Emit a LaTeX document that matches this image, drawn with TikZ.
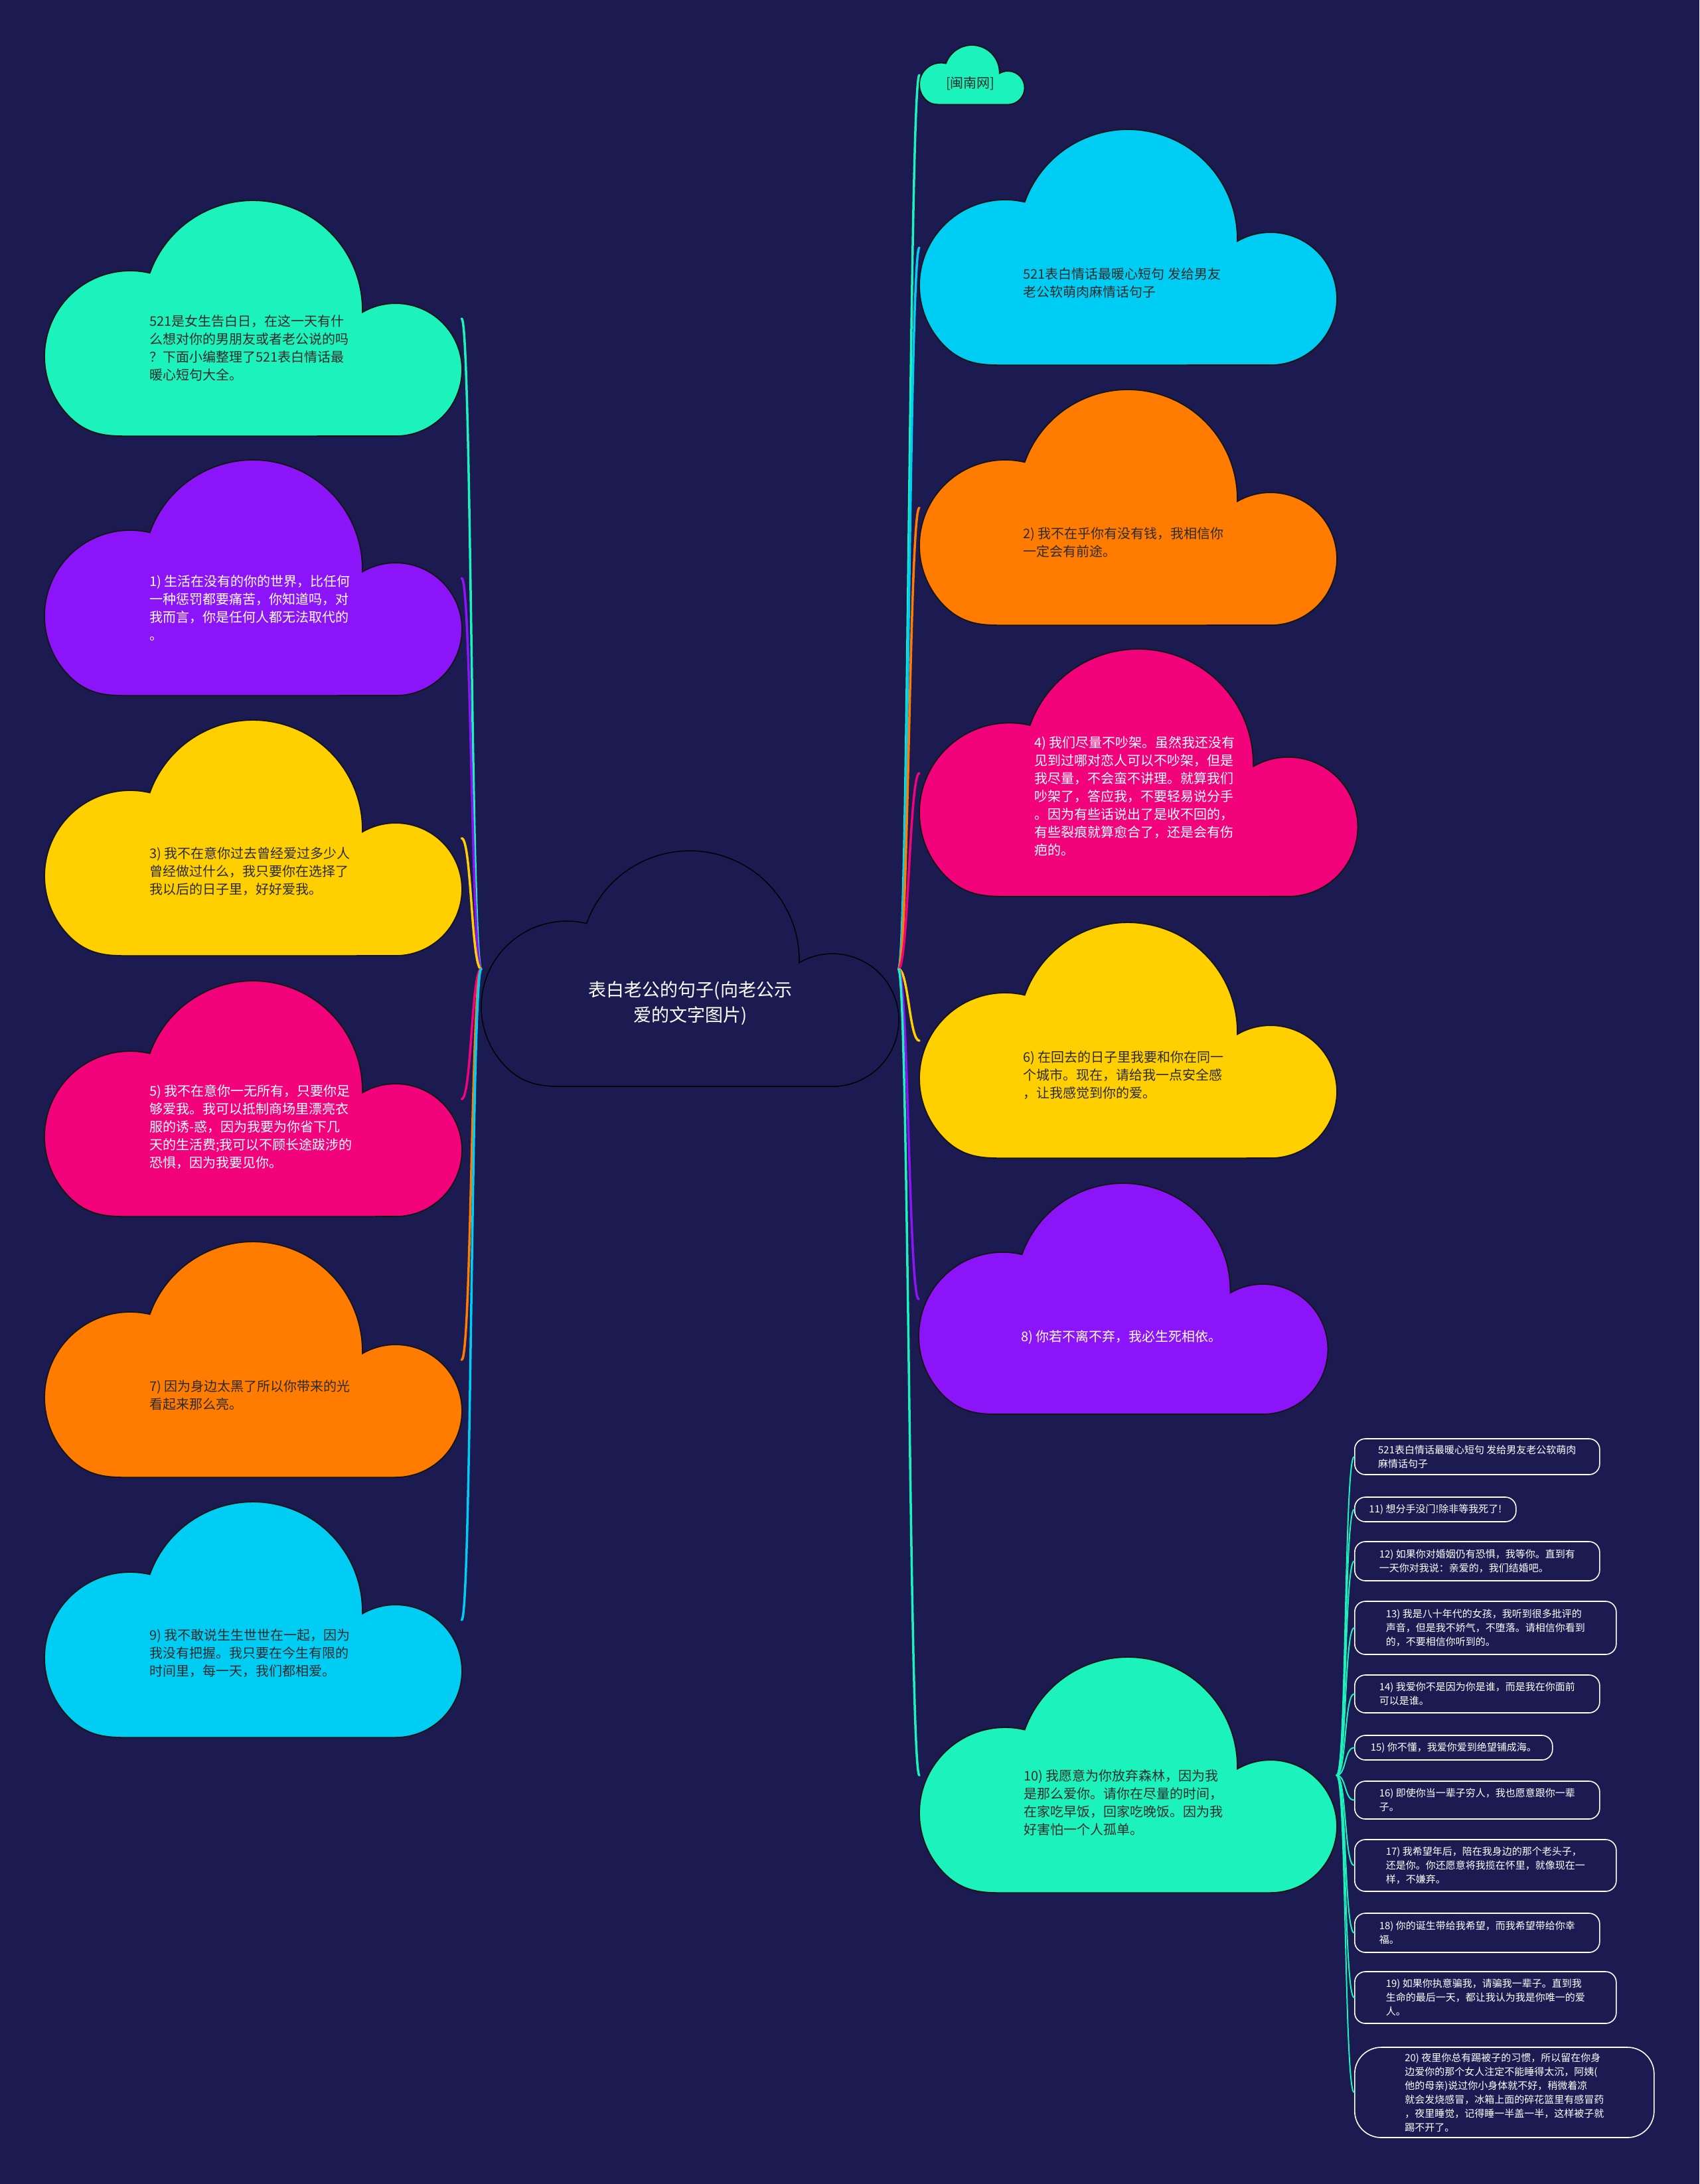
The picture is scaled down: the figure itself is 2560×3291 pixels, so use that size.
\documentclass[tikz,border=0pt]{standalone}
\usepackage{fontspec}
\setmainfont{Noto Sans CJK SC}
\definecolor{bg}{HTML}{1B1B51}
\definecolor{cgreen}{HTML}{1CF2BC}
\definecolor{cpurple}{HTML}{8B15F8}
\definecolor{cyellow}{HTML}{FFCF00}
\definecolor{cpink}{HTML}{F2037C}
\definecolor{corange}{HTML}{FF7C00}
\definecolor{ccyan}{HTML}{00CDF4}
\definecolor{darktext}{HTML}{2B2B2B}
\definecolor{outl}{HTML}{141414}
\newcommand\mycloud[5]{%
  \begin{scope}[shift={(#2,{-#3-356*#4})},scale=#4]
    \path[#5] (37.8,29.8) arc[start angle=225,end angle=76.7,radius=129]
      arc[start angle=160.3,end angle=-1.2,radius=165]
      arc[start angle=120,end angle=-90,radius=100]
      -- (125,0.8) .. controls (95,0.8) and (66,1.8) .. (37.8,29.8) -- cycle;
  \end{scope}
  \node[inner sep=0pt,minimum width={628*#4},minimum height={356*#4},anchor=north west] (#1) at (#2,-#3) {};
}
\newcommand\conn[4]{\draw[connector,#1] (#2) .. controls ([xshift={#4}]#2) and ([xshift={-1*(#4)}]#3) .. (#3);}
\tikzset{
  cloudfill/.style={fill=#1,draw=outl,line width=1.8},
  connector/.style={line width=3.5,line cap=round},
  leafconn/.style={line width=2,cgreen,line cap=round},
  ctext/.style={inner sep=0pt,align=left,anchor=north west,font=\fontsize{20}{27}\selectfont},
  leafbox/.style={draw=white,line width=1.6,rounded corners=16,fill=bg,anchor=west,inner sep=0pt,align=left,text=white,font=\fontsize{15}{21}\selectfont}
}
\begin{document}
\begin{tikzpicture}[x=1pt,y=1pt]
\fill[bg] (0,0) rectangle (2560,-3291);
\useasboundingbox (0,0) rectangle (2560,-3291);

% left clouds
\mycloud{L0}{67}{302}{1}{cloudfill=cgreen}
\mycloud{L1}{67}{693}{1}{cloudfill=cpurple}
\mycloud{L2}{67}{1085}{1}{cloudfill=cyellow}
\mycloud{L3}{67}{1478}{1}{cloudfill=cpink}
\mycloud{L4}{67}{1871}{1}{cloudfill=corange}
\mycloud{L5}{67}{2263}{1}{cloudfill=ccyan}
% center
\mycloud{C}{725}{1282}{1}{draw=black,line width=1.5}
% right clouds
\mycloud{S}{1385}{68}{0.252}{cloudfill=cgreen}
\mycloud{R0}{1385}{195}{1}{cloudfill=ccyan}
\mycloud{R1}{1385}{587}{1}{cloudfill=corange}
\mycloud{R2}{1385}{978}{1.05}{cloudfill=cpink}
\mycloud{R3}{1385}{1390}{1}{cloudfill=cyellow}
\mycloud{R4}{1384}{1783}{0.98}{cloudfill=cpurple}
\mycloud{R5}{1385}{2497}{1}{cloudfill=cgreen}

% connectors
\conn{cgreen}{C.west}{L0.east}{-15}
\conn{cpurple}{C.west}{L1.east}{-15}
\conn{cyellow}{C.west}{L2.east}{-15}
\conn{cpink}{C.west}{L3.east}{-15}
\conn{corange}{C.west}{L4.east}{-15}
\conn{ccyan}{C.west}{L5.east}{-15}
\conn{cgreen}{C.east}{S.west}{15}
\conn{ccyan}{C.east}{R0.west}{15}
\conn{corange}{C.east}{R1.west}{15}
\conn{cpink}{C.east}{R2.west}{15}
\conn{cyellow}{C.east}{R3.west}{15}
\conn{cpurple}{C.east}{R4.west}{15}
\conn{cgreen}{C.east}{R5.west}{15}

% texts
\node[ctext,text=darktext] (tL0) at (225,-474) {521是女生告白日，在这一天有什\\么想对你的男朋友或者老公说的吗\\？下面小编整理了521表白情话最\\暖心短句大全。};
\node[ctext,text=white] (tL1) at (225,-866) {1) 生活在没有的你的世界，比任何\\一种惩罚都要痛苦，你知道吗，对\\我而言，你是任何人都无法取代的\\。};
\node[ctext,text=darktext] (tL2) at (225,-1276) {3) 我不在意你过去曾经爱过多少人\\曾经做过什么，我只要你在选择了\\我以后的日子里，好好爱我。};
\node[ctext,text=white] (tL3) at (225,-1634) {5) 我不在意你一无所有，只要你足\\够爱我。我可以抵制商场里漂亮衣\\服的诱-惑，因为我要为你省下几\\天的生活费;我可以不顾长途跋涉的\\恐惧，因为我要见你。};
\node[ctext,text=darktext] (tL4) at (225,-2079) {7) 因为身边太黑了所以你带来的光\\看起来那么亮。};
\node[ctext,text=darktext] (tL5) at (225,-2454) {9) 我不敢说生生世世在一起，因为\\我没有把握。我只要在今生有限的\\时间里，每一天，我们都相爱。};

\node[inner sep=0pt,align=center,anchor=north,text=white,font=\fontsize{27}{38}\selectfont] (tC) at (1040,-1478) {表白老公的句子(向老公示\\爱的文字图片)};

\node[ctext,text=darktext] (tS) at (1425,-116) {[闽南网]};
\node[ctext,text=darktext] (tR0) at (1541,-403) {521表白情话最暖心短句 发给男友\\老公软萌肉麻情话句子};
\node[ctext,text=darktext] (tR1) at (1541,-794) {2) 我不在乎你有没有钱，我相信你\\一定会有前途。};
\node[ctext,text=white] (tR2) at (1558,-1109) {4) 我们尽量不吵架。虽然我还没有\\见到过哪对恋人可以不吵架，但是\\我尽量，不会蛮不讲理。就算我们\\吵架了，答应我，不要轻易说分手\\。因为有些话说出了是收不回的，\\有些裂痕就算愈合了，还是会有伤\\疤的。};
\node[ctext,text=darktext] (tR3) at (1541,-1583) {6) 在回去的日子里我要和你在同一\\个城市。现在，请给我一点安全感\\，让我感觉到你的爱。};
\node[ctext,text=white] (tR4) at (1538,-2004) {8) 你若不离不弃，我必生死相依。};
\node[ctext,text=darktext] (tR5) at (1542,-2666) {10) 我愿意为你放弃森林，因为我\\是那么爱你。请你在尽量的时间，\\在家吃早饭，回家吃晚饭。因为我\\好害怕一个人孤单。};

% leaves
\node[leafbox,minimum width=369,minimum height=54] (F1) at (2040,-2195) {521表白情话最暖心短句 发给男友老公软萌肉\\麻情话句子};
\node[leafbox,minimum width=243,minimum height=37] (F2) at (2040,-2274.5) {11) 想分手没门!除非等我死了!};
\node[leafbox,minimum width=369,minimum height=59] (F3) at (2040,-2352.5) {12) 如果你对婚姻仍有恐惧，我等你。直到有\\一天你对我说：亲爱的，我们结婚吧。};
\node[leafbox,minimum width=394,minimum height=80] (F4) at (2040,-2453) {13) 我是八十年代的女孩，我听到很多批评的\\声音，但是我不娇气，不堕落。请相信你看到\\的，不要相信你听到的。};
\node[leafbox,minimum width=369,minimum height=57] (F5) at (2040,-2552.5) {14) 我爱你不是因为你是谁，而是我在你面前\\可以是谁。};
\node[leafbox,minimum width=298,minimum height=37] (F6) at (2040,-2633.5) {15) 你不懂，我爱你爱到绝望铺成海。};
\node[leafbox,minimum width=369,minimum height=57] (F7) at (2040,-2712.5) {16) 即使你当一辈子穷人，我也愿意跟你一辈\\子。};
\node[leafbox,minimum width=394,minimum height=78] (F8) at (2040,-2811) {17) 我希望年后，陪在我身边的那个老头子，\\还是你。你还愿意将我揽在怀里，就像现在一\\样，不嫌弃。};
\node[leafbox,minimum width=369,minimum height=59] (F9) at (2040,-2912.5) {18) 你的诞生带给我希望，而我希望带给你幸\\福。};
\node[leafbox,minimum width=394,minimum height=78] (F10) at (2040,-3010) {19) 如果你执意骗我，请骗我一辈子。直到我\\生命的最后一天，都让我认为我是你唯一的爱\\人。};
\node[leafbox,minimum width=451,minimum height=136,rounded corners=40] (F11) at (2040,-3153) {20) 夜里你总有踢被子的习惯，所以留在你身\\边爱你的那个女人注定不能睡得太沉，阿姨(\\他的母亲)说过你小身体就不好，稍微着凉\\就会发烧感冒，冰箱上面的碎花篮里有感冒药\\，夜里睡觉，记得睡一半盖一半，这样被子就\\踢不开了。};

\foreach \f in {F1,F2,F3,F4,F5,F6,F7,F8,F9,F10,F11}{
  \draw[leafconn] (R5.east) .. controls ([xshift=15]R5.east) and ([xshift=-15]\f.west) .. (\f.west);
}
\end{tikzpicture}
\end{document}
